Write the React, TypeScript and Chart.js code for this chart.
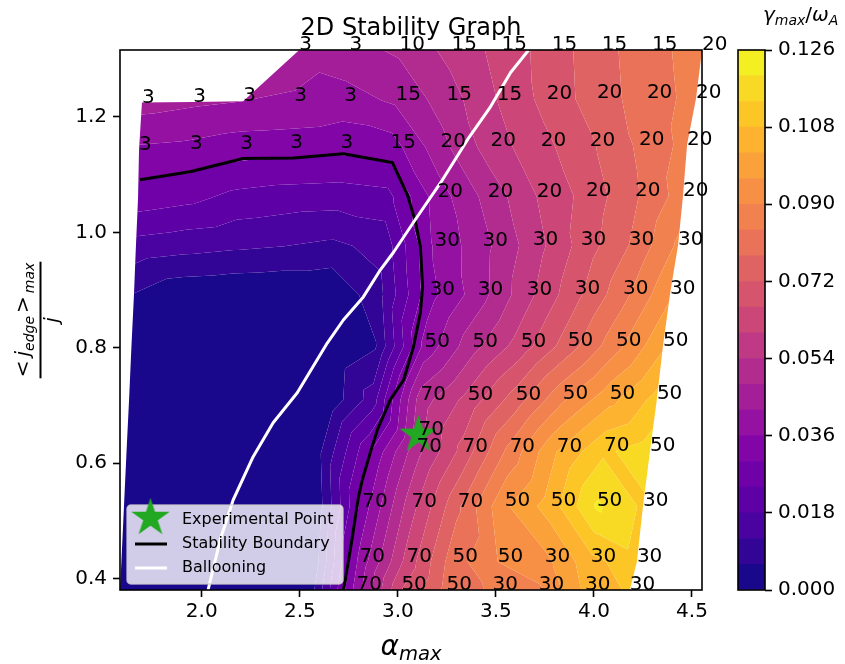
import React, { useEffect, useRef } from 'react';
import { Chart, registerables } from 'chart.js';

Chart.register(...registerables);

const FONT = '"DejaVu Sans", "Liberation Sans", sans-serif';

// ---------------- data ----------------
// Scan grid, rows from top (largest <j_edge>_max/j) to bottom. Row 0 starts at column 4 (index 3).
const firstCol = [3, 0, 0, 0, 0, 0, 0, 0, 0, 0, 0, 0];

const alphaGrid: number[][] = [
  [2.497, 2.753, 3.008, 3.274, 3.529, 3.785, 4.040, 4.296, 4.551],
  [1.695, 1.956, 2.211, 2.472, 2.727, 2.988, 3.248, 3.504, 3.759, 4.015, 4.270, 4.521],
  [1.680, 1.940, 2.196, 2.451, 2.707, 2.962, 3.218, 3.473, 3.729, 3.979, 4.230, 4.475],
  [1.675, 1.930, 2.185, 2.441, 2.696, 2.947, 3.202, 3.458, 3.708, 3.959, 4.209, 4.454],
  [1.664, 1.915, 2.165, 2.421, 2.671, 2.926, 3.187, 3.432, 3.688, 3.933, 4.178, 4.429],
  [1.654, 1.904, 2.155, 2.405, 2.656, 2.906, 3.162, 3.407, 3.657, 3.902, 4.148, 4.388],
  [1.641, 1.889, 2.140, 2.385, 2.635, 2.886, 3.136, 3.381, 3.627, 3.867, 4.112, 4.352],
  [1.629, 1.879, 2.124, 2.369, 2.620, 2.870, 3.115, 3.356, 3.601, 3.841, 4.081, 4.321],
  [1.616, 1.864, 2.109, 2.354, 2.599, 2.850, 3.095, 3.330, 3.570, 3.810, 4.051, 4.286],
  [1.603, 1.848, 2.088, 2.334, 2.579, 2.819, 3.070, 3.305, 3.545, 3.780, 4.015, 4.250],
  [1.590, 1.833, 2.073, 2.318, 2.564, 2.804, 3.044, 3.279, 3.509, 3.749, 3.984, 4.219],
  [1.583, 1.823, 2.063, 2.308, 2.548, 2.789, 3.018, 3.248, 3.483, 3.719, 3.954, 4.183],
];

const jGrid: number[][] = [
  [1.316, 1.316, 1.316, 1.316, 1.316, 1.316, 1.316, 1.316, 1.316],
  [1.225, 1.226, 1.227, 1.228, 1.228, 1.229, 1.230, 1.230, 1.231, 1.232, 1.232, 1.233],
  [1.143, 1.144, 1.145, 1.146, 1.146, 1.147, 1.148, 1.149, 1.150, 1.150, 1.151, 1.152],
  [1.059, 1.059, 1.060, 1.060, 1.061, 1.061, 1.062, 1.062, 1.062, 1.063, 1.063, 1.063],
  [0.975, 0.975, 0.976, 0.976, 0.976, 0.977, 0.977, 0.977, 0.978, 0.978, 0.978, 0.978],
  [0.890, 0.890, 0.891, 0.891, 0.891, 0.892, 0.892, 0.892, 0.892, 0.893, 0.893, 0.893],
  [0.800, 0.800, 0.801, 0.801, 0.801, 0.802, 0.802, 0.802, 0.802, 0.803, 0.803, 0.803],
  [0.708, 0.708, 0.709, 0.709, 0.709, 0.710, 0.710, 0.710, 0.710, 0.711, 0.711, 0.711],
  [0.618, 0.618, 0.619, 0.619, 0.619, 0.619, 0.620, 0.620, 0.620, 0.620, 0.621, 0.621],
  [0.523, 0.523, 0.523, 0.524, 0.524, 0.524, 0.524, 0.524, 0.525, 0.525, 0.525, 0.525],
  [0.428, 0.428, 0.428, 0.428, 0.428, 0.429, 0.429, 0.429, 0.429, 0.429, 0.429, 0.429],
  [0.380, 0.380, 0.380, 0.380, 0.380, 0.380, 0.380, 0.380, 0.380, 0.380, 0.380, 0.380],
];

// gamma_max / omega_A
const gammaGrid: number[][] = [
  [0.044, 0.046, 0.049, 0.056, 0.062, 0.069, 0.076, 0.082, 0.087],
  [0.0444, 0.043, 0.042, 0.0415, 0.0395, 0.043, 0.051, 0.060, 0.068, 0.075, 0.081, 0.086],
  [0.035, 0.0343, 0.0326, 0.0322, 0.0315, 0.0329, 0.046, 0.057, 0.064, 0.071, 0.079, 0.086],
  [0.0273, 0.0255, 0.0222, 0.021, 0.0207, 0.022, 0.039, 0.050, 0.060, 0.068, 0.077, 0.087],
  [0.0154, 0.014, 0.013, 0.012, 0.0107, 0.014, 0.037, 0.046, 0.057, 0.068, 0.078, 0.091],
  [0.0055, 0.001, 0.0005, 0, 0, 0.0103, 0.034, 0.045, 0.058, 0.070, 0.082, 0.095],
  [0, 0, 0, 0, 0, 0.0055, 0.038, 0.052, 0.063, 0.075, 0.088, 0.101],
  [0, 0, 0, 0, 0, 0.0148, 0.051, 0.062, 0.075, 0.089, 0.100, 0.110],
  [0, 0, 0, 0, 0.005, 0.029, 0.052, 0.068, 0.086, 0.102, 0.113, 0.117],
  [0, 0, 0, 0, 0.0013, 0.0326, 0.058, 0.077, 0.095, 0.105, 0.121, 0.113],
  [0, 0, 0, 0, 0.0013, 0.0377, 0.062, 0.081, 0.090, 0.094, 0.106, 0.112],
  [0, 0, 0, 0, 0.002, 0.0388, 0.066, 0.080, 0.085, 0.089, 0.103, 0.109],
];

// most unstable toroidal mode number n (null = stable, no label)
const N = null;
const modeGrid: (number | null)[][] = [
  [3, 3, 10, 15, 15, 15, 15, 15, 20],
  [3, 3, 3, 3, 3, 15, 15, 15, 20, 20, 20, 20],
  [3, 3, 3, 3, 3, 15, 20, 20, 20, 20, 20, 20],
  [N, N, N, N, N, N, 20, 20, 20, 20, 20, 20],
  [N, N, N, N, N, N, 30, 30, 30, 30, 30, 30],
  [N, N, N, N, N, N, 30, 30, 30, 30, 30, 30],
  [N, N, N, N, N, N, 50, 50, 50, 50, 50, 50],
  [N, N, N, N, N, N, 70, 50, 50, 50, 50, 50],
  [N, N, N, N, N, N, 70, 70, 70, 70, 70, 50],
  [N, N, N, N, N, 70, 70, 70, 50, 50, 50, 30],
  [N, N, N, N, N, 70, 70, 50, 50, 30, 30, 30],
  [N, N, N, N, N, 70, 50, 50, 30, 30, 30, 30],
];

const expAlpha = [3.105];
const expJ = [0.649];
const expMode = [70];

const stabAlpha = [1.685, 1.940, 2.211, 2.467, 2.722, 2.972, 3.049, 3.090, 3.115, 3.126, 3.115, 3.080, 3.029, 2.962, 2.896, 2.860, 2.819, 2.799, 2.768, 2.732, 2.722];
const stabJ = [1.091, 1.105, 1.128, 1.129, 1.136, 1.121, 1.065, 1.018, 0.975, 0.906, 0.861, 0.802, 0.744, 0.710, 0.658, 0.619, 0.571, 0.541, 0.472, 0.397, 0.380];

const balAlpha = [2.032, 2.094, 2.160, 2.262, 2.364, 2.487, 2.640, 2.722, 2.824, 2.911, 2.977, 3.079, 3.218, 3.356, 3.473, 3.575, 3.667];
const balJ = [0.380, 0.467, 0.536, 0.611, 0.670, 0.722, 0.808, 0.848, 0.888, 0.935, 0.965, 1.017, 1.086, 1.161, 1.218, 1.277, 1.316];

const levels = [0, 0.006, 0.012, 0.018, 0.024, 0.030, 0.036, 0.042, 0.048, 0.054, 0.060, 0.066, 0.072, 0.078, 0.084, 0.090, 0.096, 0.102, 0.108, 0.114, 0.120, 0.126];
const xTicks = [2.0, 2.5, 3.0, 3.5, 4.0, 4.5];
const yTicks = [0.4, 0.6, 0.8, 1.0, 1.2];
const cbTicks = [0, 0.018, 0.036, 0.054, 0.072, 0.090, 0.108, 0.126];

// ---------------- colormap (plasma) ----------------
const PLASMA: [number, string][] = [
  [0, '#0d0887'], [1 / 9, '#47039f'], [1 / 7, '#5402a3'], [1 / 6, '#5d01a6'], [0.2, '#6a00a8'], [2 / 9, '#7301a8'],
  [0.25, '#7e03a8'], [2 / 7, '#8b0aa5'], [1 / 3, '#9c179e'], [0.4, '#b12a90'], [3 / 7, '#b93289'], [4 / 9, '#bd3786'],
  [0.5, '#cc4678'], [5 / 9, '#d8576b'], [4 / 7, '#db5c68'], [0.6, '#e16462'], [2 / 3, '#ed7953'], [5 / 7, '#f48849'],
  [0.75, '#f89441'], [7 / 9, '#fa9e3b'], [0.8, '#fca636'], [5 / 6, '#fdb32f'], [6 / 7, '#febc2a'], [8 / 9, '#fdc926'], [1, '#f0f921'],
];
function hexRgb(h: string) {
  return [parseInt(h.slice(1, 3), 16), parseInt(h.slice(3, 5), 16), parseInt(h.slice(5, 7), 16)];
}
function plasma(t: number) {
  t = Math.max(0, Math.min(1, t));
  for (let i = 0; i < PLASMA.length - 1; i++) {
    const [t0, c0] = PLASMA[i];
    const [t1, c1] = PLASMA[i + 1];
    if (t <= t1) {
      const f = (t - t0) / (t1 - t0);
      const a = hexRgb(c0), b = hexRgb(c1);
      const c = a.map((v, k) => Math.round(v + f * (b[k] - v)));
      return `rgb(${c[0]},${c[1]},${c[2]})`;
    }
  }
  return PLASMA[PLASMA.length - 1][1];
}
const nBands = levels.length - 1;
const bandColors = levels.slice(0, -1).map((_, i) => plasma((i + 0.5) / nBands));

const STAR_COLOR = '#22a822';

// ---------------- helpers ----------------
type P = { px: number; py: number; v: number };
function clipPoly(poly: P[], level: number, above: boolean): P[] {
  const out: P[] = [];
  for (let i = 0; i < poly.length; i++) {
    const p = poly[i];
    const q = poly[(i + 1) % poly.length];
    const pin = above ? p.v >= level : p.v <= level;
    const qin = above ? q.v >= level : q.v <= level;
    if (pin) out.push(p);
    if (pin !== qin) {
      const t = (level - p.v) / (q.v - p.v);
      out.push({ px: p.px + t * (q.px - p.px), py: p.py + t * (q.py - p.py), v: level });
    }
  }
  return out;
}

function makeStar(R: number, color: string) {
  const c = document.createElement('canvas');
  const size = Math.ceil(2 * R + 12);
  c.width = size;
  c.height = size;
  const g = c.getContext('2d')!;
  const cx = size / 2, cy = size / 2;
  g.beginPath();
  for (let k = 0; k < 10; k++) {
    const r = k % 2 === 0 ? R : R * 0.381966;
    const a = -Math.PI / 2 + (k * Math.PI) / 5;
    const x = cx + r * Math.cos(a), y = cy + r * Math.sin(a);
    if (k === 0) g.moveTo(x, y);
    else g.lineTo(x, y);
  }
  g.closePath();
  g.fillStyle = color;
  g.fill();
  g.lineJoin = 'miter';
  g.lineWidth = 2;
  g.strokeStyle = color;
  g.stroke();
  return c;
}

type Seg = { t: string; size: number; italic?: boolean; dy?: number; gap?: number };
function segFont(s: Seg) {
  return `${s.italic ? 'italic ' : ''}${s.size}px ${FONT}`;
}
function runWidth(ctx: CanvasRenderingContext2D, segs: Seg[]) {
  let w = 0;
  for (const s of segs) {
    ctx.font = segFont(s);
    w += (s.gap || 0) + ctx.measureText(s.t).width;
  }
  return w;
}
function drawRun(ctx: CanvasRenderingContext2D, segs: Seg[], x: number, y: number) {
  let cx = x;
  for (const s of segs) {
    cx += s.gap || 0;
    ctx.font = segFont(s);
    ctx.fillText(s.t, cx, y + (s.dy || 0));
    cx += ctx.measureText(s.t).width;
  }
}

function roundRectPath(ctx: CanvasRenderingContext2D, x: number, y: number, w: number, h: number, r: number) {
  ctx.beginPath();
  ctx.moveTo(x + r, y);
  ctx.arcTo(x + w, y, x + w, y + h, r);
  ctx.arcTo(x + w, y + h, x, y + h, r);
  ctx.arcTo(x, y + h, x, y, r);
  ctx.arcTo(x, y, x + w, y, r);
  ctx.closePath();
}

const allAlpha = alphaGrid.flat();
const allJ = jGrid.flat();
const X_MIN = Math.min(...allAlpha);
const X_MAX = Math.max(...allAlpha);
const Y_MIN = Math.min(...allJ);
const Y_MAX = Math.max(...allJ);

// ---------------- plugins ----------------
const contourPlugin = {
  id: 'contourFill',
  beforeDatasetsDraw(chart: any) {
    const { ctx, chartArea: ca, scales } = chart;
    const xs = scales.x, ys = scales.y;
    const pts: P[][] = alphaGrid.map((row, r) =>
      row.map((a, k) => ({ px: xs.getPixelForValue(a), py: ys.getPixelForValue(jGrid[r][k]), v: gammaGrid[r][k] }))
    );
    const get = (r: number, c: number): P | undefined => {
      const k = c - firstCol[r];
      return k >= 0 && k < pts[r].length ? pts[r][k] : undefined;
    };
    const tris: P[][] = [];
    for (let r = 0; r < pts.length - 1; r++) {
      for (let c = 0; c < 11; c++) {
        const a = get(r, c), b = get(r, c + 1), d = get(r + 1, c), e = get(r + 1, c + 1);
        if (a && b && d && e) {
          tris.push([a, e, b]);
          tris.push([a, d, e]);
        } else if (!a && b && d && e) {
          tris.push([b, d, e]);
        }
      }
    }
    for (const t of tris) {
      const area = (t[1].px - t[0].px) * (t[2].py - t[0].py) - (t[1].py - t[0].py) * (t[2].px - t[0].px);
      if (area < 0) {
        const tmp = t[1];
        t[1] = t[2];
        t[2] = tmp;
      }
    }
    ctx.save();
    ctx.beginPath();
    ctx.rect(ca.left, ca.top, ca.right - ca.left, ca.bottom - ca.top);
    ctx.clip();
    for (let i = 0; i < nBands; i++) {
      const lo = levels[i], hi = levels[i + 1];
      ctx.beginPath();
      let any = false;
      for (const t of tris) {
        let poly = clipPoly(t, lo, true);
        if (poly.length < 3) continue;
        poly = clipPoly(poly, hi, false);
        if (poly.length < 3) continue;
        ctx.moveTo(poly[0].px, poly[0].py);
        for (let k = 1; k < poly.length; k++) ctx.lineTo(poly[k].px, poly[k].py);
        ctx.closePath();
        any = true;
      }
      if (any) {
        ctx.fillStyle = bandColors[i];
        ctx.fill('nonzero');
      }
    }
    ctx.restore();
  },
};

const labelPlugin = {
  id: 'modeLabels',
  afterDatasetsDraw(chart: any) {
    const { ctx, scales } = chart;
    ctx.save();
    ctx.font = `20px ${FONT}`;
    ctx.fillStyle = '#000';
    ctx.textAlign = 'left';
    ctx.textBaseline = 'alphabetic';
    modeGrid.forEach((row, r) =>
      row.forEach((n, k) => {
        if (n == null) return;
        ctx.fillText(String(n), scales.x.getPixelForValue(alphaGrid[r][k]), scales.y.getPixelForValue(jGrid[r][k]));
      })
    );
    expMode.forEach((n, i) => {
      ctx.fillText(String(n), scales.x.getPixelForValue(expAlpha[i]), scales.y.getPixelForValue(expJ[i]));
    });
    ctx.restore();
  },
};

function makeDecorPlugin(star: HTMLCanvasElement) {
  return {
    id: 'decor',
    afterDraw(chart: any) {
      const { ctx, chartArea: ca } = chart;
      ctx.save();
      // frame
      ctx.strokeStyle = '#000';
      ctx.lineWidth = 1.6;
      ctx.strokeRect(ca.left, ca.top, ca.right - ca.left, ca.bottom - ca.top);

      // legend (lower left)
      const lw = 216, lh = 79;
      const lx = ca.left + 7, ly = ca.bottom - 6 - lh;
      roundRectPath(ctx, lx, ly, lw, lh, 4);
      ctx.fillStyle = 'rgba(255,255,255,0.8)';
      ctx.fill();
      ctx.strokeStyle = 'rgba(204,204,204,0.8)';
      ctx.lineWidth = 1.5;
      ctx.stroke();
      ctx.drawImage(star, lx + 23.5 - star.width / 2, ly + 13 - star.height / 2);
      ctx.lineCap = 'butt';
      ctx.lineWidth = 3;
      ctx.strokeStyle = '#000';
      ctx.beginPath();
      ctx.moveTo(lx + 8, ly + 39);
      ctx.lineTo(lx + 40, ly + 39);
      ctx.stroke();
      ctx.strokeStyle = '#fff';
      ctx.beginPath();
      ctx.moveTo(lx + 8, ly + 63);
      ctx.lineTo(lx + 40, ly + 63);
      ctx.stroke();
      ctx.fillStyle = '#000';
      ctx.font = `16px ${FONT}`;
      ctx.textAlign = 'left';
      ctx.textBaseline = 'middle';
      ctx.fillText('Experimental Point', lx + 55, ly + 15);
      ctx.fillText('Stability Boundary', lx + 55, ly + 39);
      ctx.fillText('Ballooning', lx + 55, ly + 63);

      // title
      const cx = (ca.left + ca.right) / 2;
      ctx.textAlign = 'center';
      ctx.textBaseline = 'alphabetic';
      ctx.font = `24px ${FONT}`;
      ctx.fillText('2D Stability Graph', cx, ca.top - 15);

      // x label
      ctx.textAlign = 'left';
      const xSegs: Seg[] = [
        { t: 'α', size: 28, italic: true },
        { t: 'max', size: 19.6, italic: true, dy: 5 },
      ];
      const xw = runWidth(ctx, xSegs);
      drawRun(ctx, xSegs, cx - xw / 2, 655);

      // y label (fraction, rotated)
      const cy = (ca.top + ca.bottom) / 2;
      ctx.translate(40.5, cy);
      ctx.rotate(-Math.PI / 2);
      const num: Seg[] = [
        { t: '<', size: 20 },
        { t: 'j', size: 20, italic: true, gap: 4 },
        { t: 'edge', size: 14, italic: true, dy: 5 },
        { t: '>', size: 20, gap: 3 },
        { t: 'max', size: 14, italic: true, dy: 5, gap: 3 },
      ];
      const nw = runWidth(ctx, num);
      drawRun(ctx, num, -nw / 2, -12);
      ctx.fillRect(-nw / 2 - 1, -1, nw + 2, 2);
      ctx.font = `italic 20px ${FONT}`;
      ctx.textAlign = 'center';
      ctx.fillText('j', 0, 17);
      ctx.restore();
    },
  };
}

const cbDecorPlugin = {
  id: 'cbDecor',
  afterDraw(chart: any) {
    const { ctx, chartArea: ca } = chart;
    ctx.save();
    ctx.strokeStyle = '#000';
    ctx.lineWidth = 1.6;
    ctx.strokeRect(ca.left, ca.top, ca.right - ca.left, ca.bottom - ca.top);
    ctx.fillStyle = '#000';
    ctx.textAlign = 'left';
    ctx.textBaseline = 'alphabetic';
    const segs: Seg[] = [
      { t: 'γ', size: 20, italic: true },
      { t: 'max', size: 14, italic: true, dy: 4 },
      { t: '/', size: 20 },
      { t: 'ω', size: 20, italic: true },
      { t: 'A', size: 14, italic: true, dy: 4 },
    ];
    drawRun(ctx, segs, ca.right - 2, 21);
    ctx.restore();
  },
};

const tickFont = { family: FONT, size: 20 };

export default function App() {
  const mainRef = useRef<HTMLCanvasElement>(null);
  const cbRef = useRef<HTMLCanvasElement>(null);

  useEffect(() => {
    const star = makeStar(17, STAR_COLOR);
    const main = new Chart(mainRef.current!, {
      type: 'scatter',
      data: {
        datasets: [
          {
            type: 'scatter',
            label: 'Experimental Point',
            data: expAlpha.map((a, i) => ({ x: a, y: expJ[i] })),
            pointStyle: star as any,
            pointRadius: 18,
            order: 0,
          },
          {
            type: 'line',
            label: 'Ballooning',
            data: balAlpha.map((a, i) => ({ x: a, y: balJ[i] })),
            borderColor: '#ffffff',
            borderWidth: 3,
            pointRadius: 0,
            fill: false,
            tension: 0,
            borderJoinStyle: 'round',
            order: 1,
          },
          {
            type: 'line',
            label: 'Stability Boundary',
            data: stabAlpha.map((a, i) => ({ x: a, y: stabJ[i] })),
            borderColor: '#000000',
            borderWidth: 3,
            pointRadius: 0,
            fill: false,
            tension: 0,
            borderJoinStyle: 'round',
            order: 2,
          },
        ] as any,
      },
      options: {
        animation: false,
        responsive: false,
        maintainAspectRatio: false,
        devicePixelRatio: 1,
        events: [],
        layout: { padding: { left: 0, top: 50, right: 143, bottom: 0 } },
        plugins: { legend: { display: false }, tooltip: { enabled: false }, title: { display: false } },
        scales: {
          x: {
            type: 'linear',
            min: X_MIN,
            max: X_MAX,
            afterBuildTicks: (s: any) => {
              s.ticks = xTicks.map((v) => ({ value: v }));
            },
            afterFit: (s: any) => {
              s.height = 74;
            },
            ticks: { font: tickFont, color: '#000', padding: 3, callback: (v: any) => Number(v).toFixed(1) },
            grid: { display: true, drawOnChartArea: false, drawTicks: true, tickLength: 7, tickWidth: 1.6, tickColor: '#000' },
            border: { display: false },
          },
          y: {
            type: 'linear',
            min: Y_MIN,
            max: Y_MAX,
            afterBuildTicks: (s: any) => {
              s.ticks = yTicks.map((v) => ({ value: v }));
            },
            afterFit: (s: any) => {
              s.width = 120;
            },
            ticks: { font: tickFont, color: '#000', padding: 6, callback: (v: any) => Number(v).toFixed(1) },
            grid: { display: true, drawOnChartArea: false, drawTicks: true, tickLength: 7, tickWidth: 1.6, tickColor: '#000' },
            border: { display: false },
          },
        },
      } as any,
      plugins: [contourPlugin, labelPlugin, makeDecorPlugin(star)],
    });

    const cb = new Chart(cbRef.current!, {
      type: 'bar',
      data: {
        labels: [''],
        datasets: bandColors.map((c, i) => ({
          label: `${levels[i]}`,
          data: [levels[i + 1] - levels[i]],
          backgroundColor: c,
          borderWidth: 0,
          barPercentage: 1,
          categoryPercentage: 1,
          stack: 'cb',
        })),
      },
      options: {
        animation: false,
        responsive: false,
        maintainAspectRatio: false,
        devicePixelRatio: 1,
        events: [],
        layout: { padding: { left: 8, top: 50, right: 0, bottom: 74 } },
        plugins: { legend: { display: false }, tooltip: { enabled: false } },
        scales: {
          x: { display: false, stacked: true },
          y: {
            type: 'linear',
            position: 'right',
            stacked: true,
            min: levels[0],
            max: levels[levels.length - 1],
            afterBuildTicks: (s: any) => {
              s.ticks = cbTicks.map((v) => ({ value: v }));
            },
            afterFit: (s: any) => {
              s.width = 80;
            },
            ticks: { font: tickFont, color: '#000', padding: 6, callback: (v: any) => Number(v).toFixed(3) },
            grid: { display: true, drawOnChartArea: false, drawTicks: true, tickLength: 7, tickWidth: 1.6, tickColor: '#000' },
            border: { display: false },
          },
        },
      } as any,
      plugins: [cbDecorPlugin],
    });

    return () => {
      main.destroy();
      cb.destroy();
    };
  }, []);

  return (
    <div style={{ position: 'fixed', left: 0, top: 0, width: 845, height: 664, background: '#ffffff' }}>
      <canvas
        ref={mainRef}
        width={845}
        height={664}
        style={{ position: 'absolute', left: 0, top: 0, width: 845, height: 664 }}
      />
      <canvas
        ref={cbRef}
        width={115}
        height={664}
        style={{ position: 'absolute', left: 730, top: 0, width: 115, height: 664 }}
      />
    </div>
  );
}
